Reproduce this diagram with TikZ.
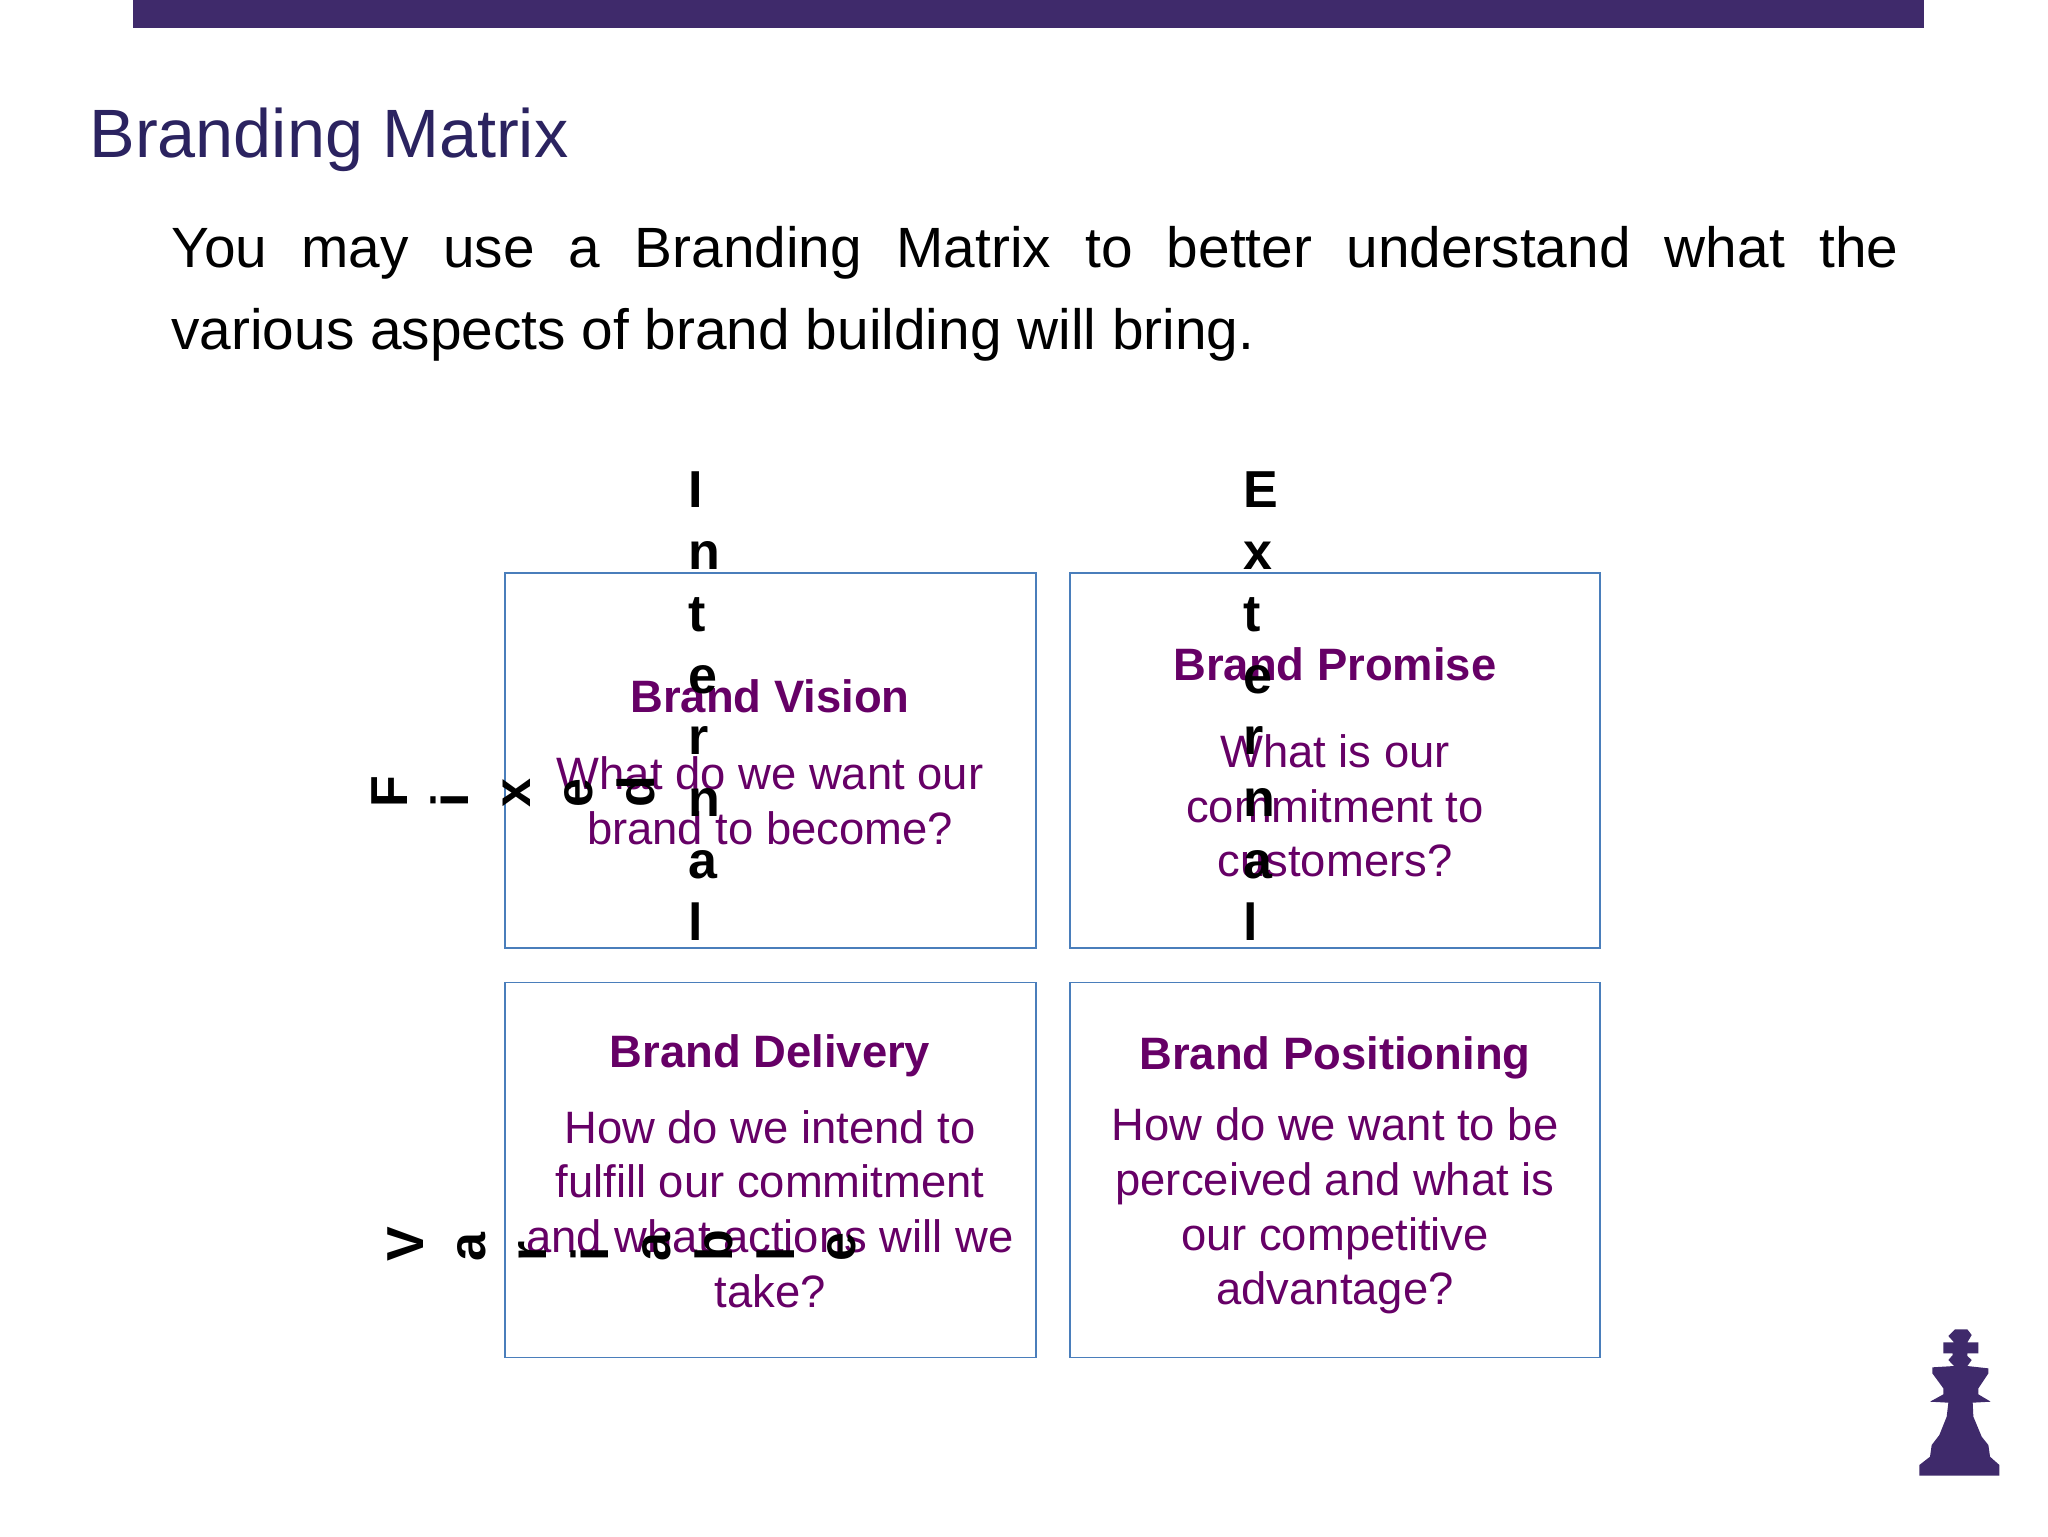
\documentclass[tikz,border=0pt]{standalone}
\usepackage{fontspec}
\setmainfont{Liberation Sans}
\definecolor{barcol}{HTML}{3F2A6B}
\definecolor{titlecol}{HTML}{2B2360}
\definecolor{cellcol}{HTML}{660066}
\definecolor{edgecol}{HTML}{4A7EBB}
\tikzset{
  cell/.style={draw=edgecol,line width=0.9pt,fill=none,inner sep=0pt,anchor=north west,minimum width=#1,minimum height=187.5pt},
  cellhead/.style={text=cellcol,font=\fontsize{22.7}{27.3}\selectfont\bfseries,inner sep=0pt},
  cellbody/.style={text=cellcol,font=\fontsize{22.7}{27.3}\selectfont,align=center,inner sep=0pt},
  axisword/.style={text=black,font=\fontsize{26}{30.9}\selectfont\bfseries,align=left,inner sep=0pt},
}
\begin{document}
\begin{tikzpicture}[x=0.5pt,y=-0.5pt]
\useasboundingbox (0,0) rectangle (2048,1536);
\fill[white] (0,0) rectangle (2048,1536);
\fill[barcol] (133,0) rectangle (1924,28);
\node[anchor=base west,inner sep=0pt,text=titlecol,font=\fontsize{34.2}{40}\selectfont] (title) at (89,157) {Branding Matrix};
\node[anchor=north west,inner sep=0pt,text width=863.5pt,align=justify,font=\fontsize{28.4}{41}\selectfont] (intro) at (171,226) {You may use a Branding Matrix to better understand what the\linebreak various aspects of brand building will bring.};
\node[cell=265.5pt] (c1) at (504,572) {};
\node[cell=265pt] (c2) at (1069,572) {};
\node[cell=265.5pt] (c3) at (504,981.5) {};
\node[cell=265pt] (c4) at (1069,981.5) {};
\node[cellhead] (h1) at (770,696) {Brand Vision};
\node[cellbody] (b1) at (770,801) {What do we want our\\brand to become?};
\node[cellhead] (h2) at (1335,664) {Brand Promise};
\node[cellbody] (b2) at (1335,806) {What is our\\commitment to\\customers?};
\node[cellhead] (h3) at (770,1056) {Brand Delivery};
\node[cellbody] (b3) at (770,1209) {How do we intend to\\fulfill our commitment\\and what actions will we\\take?};
\node[cellhead] (h4) at (1335,1058) {Brand Positioning};
\node[cellbody] (b4) at (1335,1211) {How do we want to be\\perceived and what is\\our competitive\\advantage?};
\node[axisword,anchor=west] (internal) at (688,706) {I\\n\\t\\e\\r\\n\\a\\l};
\node[axisword,anchor=west] (external) at (1243,706) {E\\x\\t\\e\\r\\n\\a\\l};
\node[axisword,rotate=90,anchor=west] (fixed) at (513,808) {F\\i\\x\\e\\d};
\node[axisword,rotate=90,anchor=west] (variable) at (622,1262) {V\\a\\r\\i\\a\\b\\l\\e};
\begin{scope}[shift={(940pt,-655pt)},x=0.16667pt,y=-0.16667pt]
\fill[barcol] (225,58)--(262,58)--(275,75)--(262,97)--(295,97)--(295,130)--(262,130)--(262,138)--(275,150)--(262,168)--(325,175)--(325,190)--(295,235)--(295,253)--(332,275)--(278,278)--(280,320)--(305,380)--(325,405)--(330,440)--(358,465)--(358,497)--(118,497)--(118,465)--(150,440)--(155,405)--(178,375)--(200,320)--(205,278)--(150,275)--(190,253)--(190,235)--(157,190)--(157,172)--(222,168)--(205,150)--(218,135)--(218,130)--(190,130)--(190,97)--(222,97)--(205,78)--cycle;
\end{scope}
\end{tikzpicture}
\end{document}
